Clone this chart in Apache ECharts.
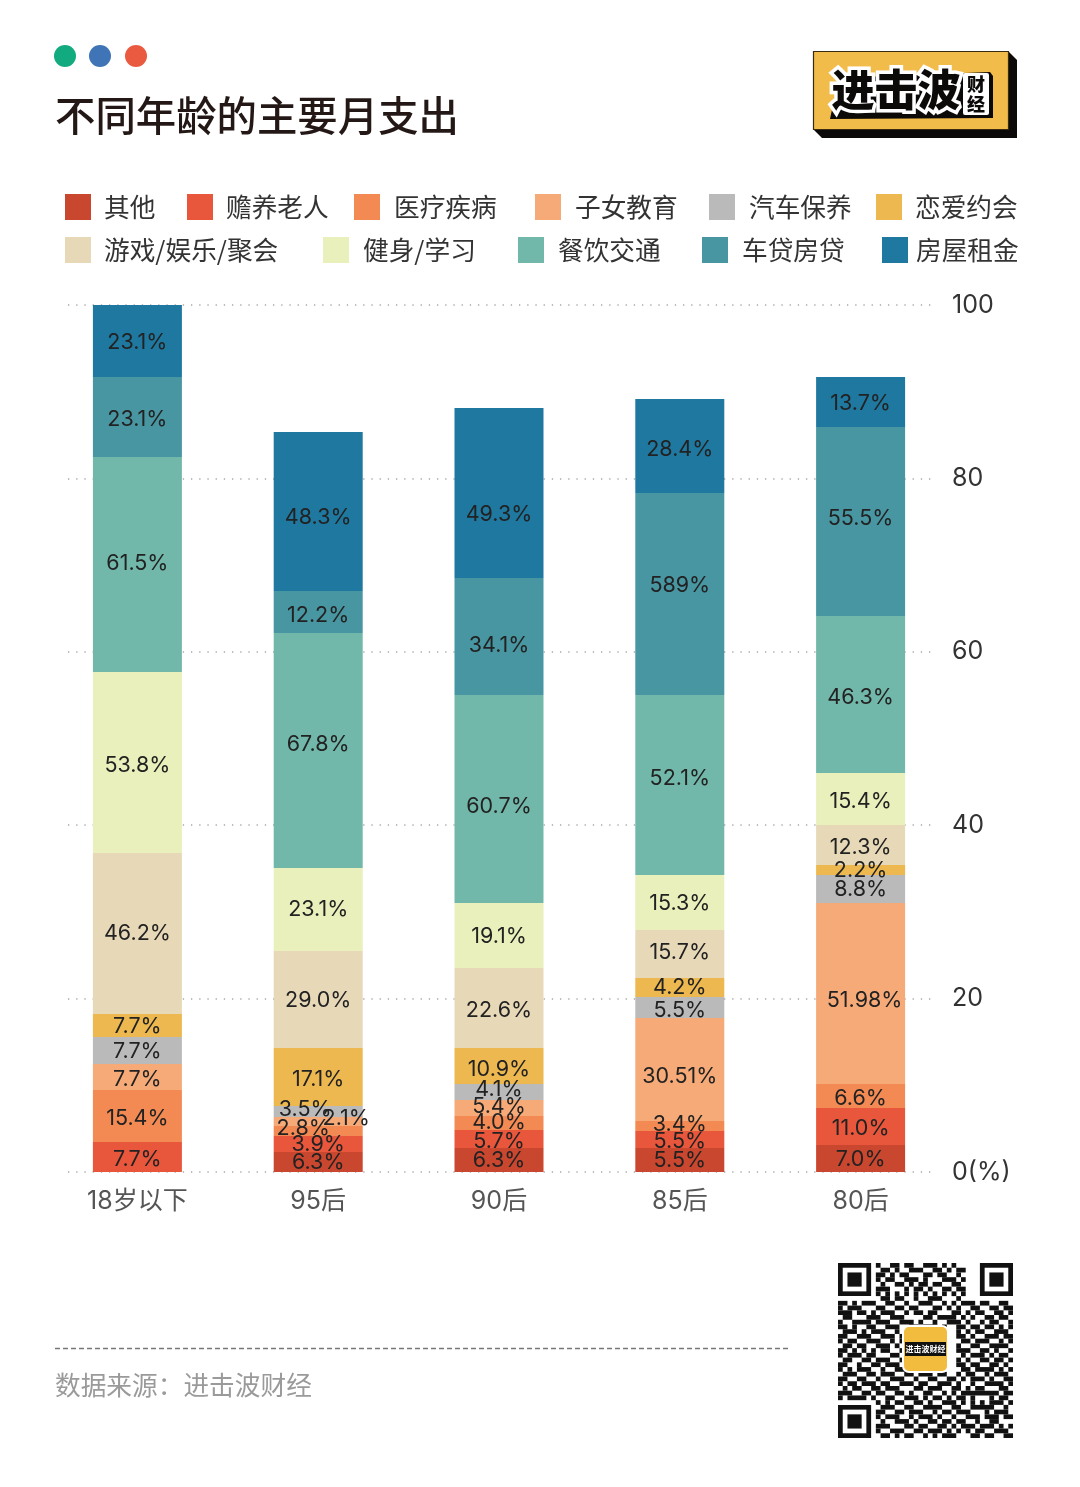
<!DOCTYPE html>
<html lang="zh">
<head>
<meta charset="utf-8">
<title>不同年龄的主要月支出</title>
<script src="https://cdn.jsdelivr.net/npm/echarts@6/dist/echarts.min.js"></script>
<style>html,body{margin:0;padding:0;background:#fff}#c{width:1080px;height:1487px}</style>
</head>
<body>
<div id="c"></div>
<script>
const categories = ['18岁以下', '95后', '90后', '85后', '80后'];
const seriesNames = ['其他','赡养老人','医疗疾病','子女教育','汽车保养','恋爱约会','游戏/娱乐/聚会','健身/学习','餐饮交通','车贷房贷','房屋租金'];

// Segment heights
const other     = [0,     2.31,  2.77,  2.77,  3.11];
const elderly   = [3.46,  1.85,  2.08,  1.96,  4.27];
const medical   = [6.00,  1.15,  1.61,  1.15,  2.77];
const education = [3.00,  1.04,  1.85, 11.88, 20.88];
const carCare   = [3.11,  1.27,  1.85,  2.42,  3.23];
const dating    = [2.65,  6.69,  4.15,  2.19,  1.15];
const leisure   = [18.57, 11.19, 9.23,  5.54,  4.61];
const fitness   = [20.88, 9.57,  7.50,  6.34,  6.00];
const dining    = [24.80, 27.10, 23.99, 20.76, 18.11];
const loans     = [9.23,  4.84,  13.49, 23.30, 21.80];
const rent      = [8.30,  18.34, 19.61, 10.84, 5.77];

// Printed labels
const otherText     = ['', '6.3%', '6.3%', '5.5%', '7.0%'];
const elderlyText   = ['7.7%', '3.9%', '5.7%', '5.5%', '11.0%'];
const medicalText   = ['15.4%', '2.8%', '4.0%', '3.4%', '6.6%'];
const educationText = ['7.7%', '2.1%', '5.4%', '30.51%', '51.98%'];
const carCareText   = ['7.7%', '3.5%', '4.1%', '5.5%', '8.8%'];
const datingText    = ['7.7%', '17.1%', '10.9%', '4.2%', '2.2%'];
const leisureText   = ['46.2%', '29.0%', '22.6%', '15.7%', '12.3%'];
const fitnessText   = ['53.8%', '23.1%', '19.1%', '15.3%', '15.4%'];
const diningText    = ['61.5%', '67.8%', '60.7%', '52.1%', '46.3%'];
const loansText     = ['23.1%', '12.2%', '34.1%', '589%', '55.5%'];
const rentText      = ['23.1%', '48.3%', '49.3%', '28.4%', '13.7%'];

const yTicks = [0, 20, 40, 60, 80, 100];

const values = [other,elderly,medical,education,carCare,dating,leisure,fitness,dining,loans,rent];
const texts = [otherText,elderlyText,medicalText,educationText,carCareText,datingText,leisureText,fitnessText,diningText,loansText,rentText];
const colors = ['#c9462f','#e8563c','#f38a54','#f6aa78','#bababa','#ecb84f','#e7d8b8','#e9f0bb','#72b8aa','#4896a2','#1f78a0'];

// label nudges [series][category]
const nudgeY = [
 [0,1,1,1,1],[3,1,3,2,2],[3,-2,0,-1,3],[3,-3,-1,7,7],[1,-2,-2,3,1],[1,3,4,0,1],
 [0,1,3,-2,3],[3,0,1,1,3],[-1,-6,8,-7,3],[3,4,9,-9,-3],[2,6,22,3,2]];
const nudgeX = {'2,1':-15,'3,1':28,'4,1':-13,'3,4':4};

const legendPos = [
 [65,194,8],[187,194,8],[354,194,9],[535,194,9],[709,194,9],[876,194,8],
 [65,237,8],[323,237,9],[518,237,9],[702,237,9],[882,237,3]];

const cjk = '"Noto Sans CJK SC","Noto Sans",sans-serif';
const latin = 'Inter,"Noto Sans CJK SC",sans-serif';

const qrRows = [
"0000000010011011001110101000000000000",
"0000000001101001110011010110000000000",
"0000000011010110001101100100000000000",
"0000000010110011101000111010000000000",
"0000000001001101011011001100000000000",
"0000000011100010110100110110000000000",
"0000000010101010101010101010000000000",
"0000000001101100100111000100000000000",
"1101011100110010011100101011101100110",
"1011100011001101100011010100110011011",
"1110110101110010110110001101011001101",
"0110001110011100001101111010100110110",
"1001111011100111010010011101001011001",
"1101001100111001101110100110110110101",
"0111010111001010000000000101011001110",
"1100111001110100000000000110100111011",
"1011001110010110000000000011011100101",
"0110110011101000000000000100110011110",
"1101010101100110000000000111001101001",
"1011101100011010000000000010111010110",
"0110011011100100000000000101001101101",
"1100100110111010000000000110110011010",
"1010111001001110000000000011011110101",
"0111001101110011011101100101100101110",
"1100110010011100100110011010111010011",
"1011011101100111011001110100100111101",
"0101100110111000110111001101011000110",
"1110011011001101001100101011111111011",
"1011110100110011101011010110100010110",
"0000000010101100110100111010101011101",
"0000000001110011001111001100111110010",
"0000000011001101110010110111000101110",
"0000000010111001011101001001110111011",
"0000000001001110100110110110010011000",
"0000000011100011011001101011101110101",
"0000000010011100110111010101011001110",
"0000000001101011001010111000110110011"];

function qrGraphic() {
  const x0 = 838, y0 = 1263, m = 4.73, kids = [];
  const box = (c, r, w, h, fill) => kids.push({type:'rect', shape:{x:x0+c*m, y:y0+r*m, width:w*m, height:h*m}, style:{fill}});
  qrRows.forEach((row, r) => {
    let c = 0;
    while (c < row.length) {
      if (row[c] === '1') {
        let e = c; while (e < row.length && row[e] === '1') e++;
        box(c, r, e - c, 1, '#111');
        c = e;
      } else c++;
    }
  });
  [[0,0],[30,0],[0,30]].forEach(([c, r]) => {
    box(c, r, 7, 7, '#111'); box(c+1, r+1, 5, 5, '#fff'); box(c+2, r+2, 3, 3, '#111');
  });
  kids.push({type:'rect', shape:{x:903, y:1326, width:45, height:46, r:6}, style:{fill:'#f2bc3e', stroke:'#fff', lineWidth:2}});
  kids.push({type:'rect', shape:{x:905, y:1342, width:41, height:14}, style:{fill:'#111'}});
  kids.push({type:'text', x:925.5, y:1349, style:{text:'进击波财经', fill:'#fff', fontSize:8, fontWeight:'bold', fontFamily:cjk, align:'center', verticalAlign:'middle'}});
  return kids;
}

const graphic = [
  {type:'circle', shape:{cx:65, cy:56, r:11}, style:{fill:'#12ab7f'}},
  {type:'circle', shape:{cx:100, cy:56, r:11}, style:{fill:'#3f74b6'}},
  {type:'circle', shape:{cx:136, cy:56, r:11}, style:{fill:'#ea5a40'}},
  // logo
  {type:'polygon', shape:{points:[[1008,51],[1017,60],[1017,138],[822,138],[813,129],[813,51]]}, style:{fill:'#0c0a08'}},
  {type:'rect', shape:{x:813.5, y:51.5, width:195, height:78}, style:{fill:'#f2bc4b', stroke:'#3a2a10', lineWidth:1.2}},
  {type:'polygon', shape:{points:[[838,78],[990,72],[993,76],[993,118],[830,119],[834,100]]}, style:{fill:'#0c0a08'}},
  {type:'rect', shape:{x:963, y:73, width:26, height:42, r:2}, style:{fill:'#fff'}},
  {type:'text', x:896, y:90, style:{text:'进击波', fill:'#0c0a08', stroke:'#fff', lineWidth:7, fontSize:43, fontWeight:900, fontFamily:cjk, align:'center', verticalAlign:'middle'}},
  {type:'text', x:976, y:84, style:{text:'财', fill:'#0c0a08', fontSize:18, fontWeight:900, fontFamily:cjk, align:'center', verticalAlign:'middle'}},
  {type:'text', x:976, y:104, style:{text:'经', fill:'#0c0a08', fontSize:18, fontWeight:900, fontFamily:cjk, align:'center', verticalAlign:'middle'}},
  // footer rule
  {type:'line', shape:{x1:55, y1:1348.5, x2:789, y2:1348.5}, style:{stroke:'#777', lineWidth:1.5, lineDash:[5,3]}},
  {type:'group', children:qrGraphic()}
];

const option = {
  backgroundColor:'#fff',
  animation:false,
  color:colors,
  title:[
    {text:'不同年龄的主要月支出', left:55, top:95, padding:0, textStyle:{fontFamily:cjk, fontSize:40.4, fontWeight:500, color:'#231815'}},
    {text:'数据来源：进击波财经', left:55, top:1372, padding:0, textStyle:{fontFamily:cjk, fontSize:25.7, fontWeight:'normal', color:'#9a9a9a'}}
  ],
  legend:seriesNames.map((n,i)=>({
    data:[n], left:legendPos[i][0], top:legendPos[i][1], padding:0, icon:'rect',
    itemWidth:26, itemHeight:26, selectedMode:false,
    textStyle:{fontFamily:cjk, fontSize:25.7, color:'#333', padding:[0,0,0,legendPos[i][2]]}
  })),
  grid:[
    {left:47, width:904, top:305, height:867},
    {left:68, width:864, top:305, height:867}
  ],
  xAxis:[
    {type:'category', gridIndex:0, data:categories, axisLine:{show:false}, axisTick:{show:false},
     axisLabel:{margin:17, fontFamily:latin, fontSize:25, color:'#555'}},
    {type:'value', gridIndex:1, min:0, max:1, show:false}
  ],
  yAxis:[
    {type:'value', gridIndex:0, min:yTicks[0], max:yTicks[5], interval:20, show:false},
    {type:'value', gridIndex:1, position:'right', min:yTicks[0], max:yTicks[5], interval:20,
     axisLine:{show:false}, axisTick:{show:false},
     splitLine:{show:true, lineStyle:{color:'#a8a8a8', type:[1.3,6.9], width:1.5}},
     axisLabel:{margin:20, fontFamily:latin, fontSize:25, color:'#333', formatter:v=>v===0?'0(%)':String(v)}}
  ],
  series:seriesNames.map((n,s)=>({
    name:n, type:'bar', stack:'all', xAxisIndex:0, yAxisIndex:0, barWidth:89, z:3,
    itemStyle:{color:colors[s]},
    data:values[s].map((v,c)=>({value:v, label:{offset:[nudgeX[s+','+c]||0, nudgeY[s][c]]}})),
    label:{show:true, position:'inside', fontFamily:latin, fontSize:21.5, color:'#222', overflow:'none',
      formatter:p=>texts[s][p.dataIndex]}
  })),
  graphic:graphic
};
const chart = echarts.init(document.getElementById('c'), null, {renderer:'canvas', width:1080, height:1487});
chart.setOption(option);
</script>
</body>
</html>
